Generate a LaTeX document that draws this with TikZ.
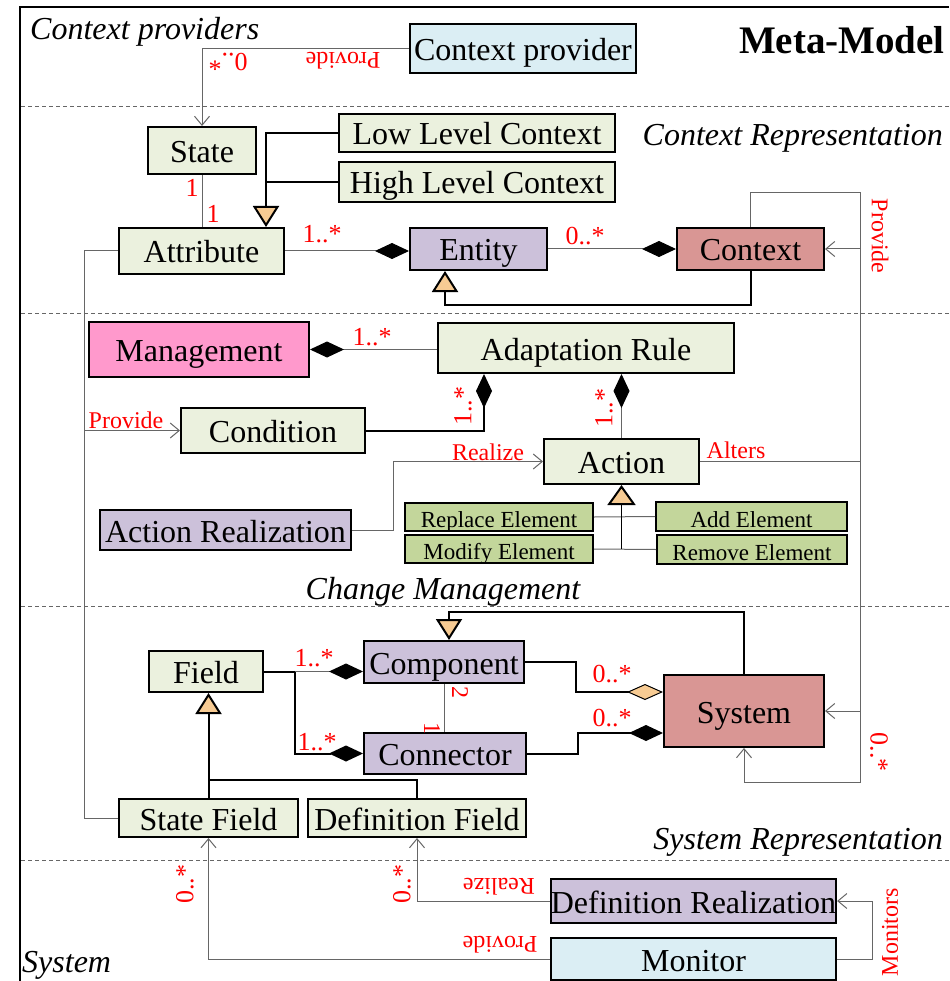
\documentclass[tikz,border=0pt]{standalone}
\usepackage{fontspec}
\setmainfont{Liberation Serif}
\usetikzlibrary{arrows.meta,positioning,calc}
\definecolor{clsfill}{HTML}{EBF1DE}
\definecolor{entfill}{HTML}{CCC1DA}
\definecolor{sysfill}{HTML}{D99694}
\definecolor{mgmtfill}{HTML}{FF99CC}
\definecolor{provfill}{HTML}{DBEEF4}
\definecolor{elemfill}{HTML}{C3D69B}
\definecolor{genfill}{HTML}{F7CB93}

\begin{document}
\begin{tikzpicture}[x=1pt,y=-1pt,
    cls/.style={draw=black,line width=2pt,fill=clsfill,inner sep=0pt,
      text height=28pt,text depth=4pt,font=\fontsize{32}{34}\selectfont},
    elem/.style={cls,fill=elemfill,text height=22pt,text depth=1pt,font=\fontsize{23}{25}\selectfont},
    lbl/.style={text=red,inner sep=0pt,font=\fontsize{24}{26}\selectfont},
    mult/.style={lbl,font=\fontsize{26}{28}\selectfont},
    area/.style={inner sep=0pt,font=\fontsize{32}{34}\selectfont\itshape},
    assoc/.style={draw=black!60,line width=1pt},
    strong/.style={draw=black,line width=2pt},
    opn/.style={-{Straight Barb[length=9pt,width=15pt]}},
    comp/.style={-{Diamond[length=34pt,width=16pt,color=black]}},
    compl/.style={{Diamond[length=34pt,width=16pt,color=black]}-},
    gen/.style={strong,-{Triangle[length=21pt,width=26pt,fill=genfill]}},
    subgen/.style={draw=black,line width=1.3pt,-{Triangle[length=20pt,width=28pt,fill=genfill,line width=2pt]}}
  ]

  \useasboundingbox (0,0) rectangle (949,981);
  \draw[line width=2pt] (20,981) -- (20,7) -- (949,7);
  \foreach \y in {107,313,606,860}
    \draw[black!60,line width=1pt,dash pattern=on 4pt off 3pt] (21,\y) -- (949,\y);

  \node[area,anchor=west] (tprov) at (30,32) {Context providers};
  \node[inner sep=0pt,anchor=east,font=\fontsize{39}{40}\selectfont\bfseries] (tmeta) at (945,40) {Meta-Model};
  \node[area,anchor=east] (tctx) at (943,138) {Context Representation};
  \node[area] (tchg) at (443,592) {Change Management};
  \node[area,anchor=east] (tsys) at (943,842) {System Representation};
  \node[area,anchor=west] (tsyst) at (22,965) {System};

  \node[cls,fill=provfill,minimum width=226pt,minimum height=49pt] (cprov) at (523,48.5) {Context provider};
  \node[cls,minimum width=108pt,minimum height=47pt] (state) at (202,150.5) {State};
  \node[cls,minimum width=276pt,minimum height=38pt] (llc) at (477,133) {Low Level Context};
  \node[cls,minimum width=276pt,minimum height=40pt] (hlc) at (477,182) {High Level Context};
  \node[cls,minimum width=165pt,minimum height=46pt] (attr) at (201.5,251) {Attribute};
  \node[cls,fill=entfill,minimum width=137pt,minimum height=42pt] (entity) at (478.5,249) {Entity};
  \node[cls,fill=sysfill,minimum width=147pt,minimum height=42pt] (context) at (750.5,249) {Context};

  \node[cls,fill=mgmtfill,minimum width=220pt,minimum height=55pt] (mgmt) at (199,349.5) {Management};
  \node[cls,minimum width=296pt,minimum height=50pt] (arule) at (586,348) {Adaptation Rule};
  \node[cls,minimum width=184pt,minimum height=45pt] (cond) at (273,430.5) {Condition};
  \node[cls,minimum width=155pt,minimum height=45pt] (action) at (621.5,461.5) {Action};
  \node[cls,fill=entfill,minimum width=251pt,minimum height=40pt] (actreal) at (225.5,530) {Action Realization};
  \node[elem,minimum width=188pt,minimum height=28pt] (replace) at (499,517) {Replace Element};
  \node[elem,minimum width=188pt,minimum height=28pt] (modify) at (499,549) {Modify Element};
  \node[elem,minimum width=191pt,minimum height=29pt] (add) at (751.5,516.5) {Add Element};
  \node[elem,minimum width=190pt,minimum height=29pt] (remove) at (752,549.5) {Remove Element};

  \node[cls,minimum width=114pt,minimum height=41pt] (field) at (206,671.5) {Field};
  \node[cls,fill=entfill,minimum width=160pt,minimum height=42pt] (component) at (444,662) {Component};
  \node[cls,fill=entfill,minimum width=162pt,minimum height=41pt] (connector) at (445,753.5) {Connector};
  \node[cls,fill=sysfill,minimum width=160pt,minimum height=72pt] (system) at (744,711) {System};
  \node[cls,minimum width=179pt,minimum height=38pt] (statefield) at (208.5,818) {State Field};
  \node[cls,minimum width=218pt,minimum height=38pt] (deffield) at (417,818) {Definition Field};

  \node[cls,fill=entfill,minimum width=285pt,minimum height=44pt] (defreal) at (693.5,901) {Definition Realization};
  \node[cls,fill=provfill,minimum width=285pt,minimum height=42pt] (monitor) at (693.5,959) {Monitor};

  \coordinate (lbus) at (84,0);
  \coordinate (rbus) at (860,193);
  \coordinate (rbot) at (860,782);
  \coordinate (genx) at (266,0);
  \coordinate (ctxbend) at (445,305);
  \coordinate (condx) at (484,0);
  \coordinate (realx) at (393,0);
  \coordinate (fieldx) at (295,0);
  \coordinate (compx) at (576,0);
  \coordinate (connx) at (578,0);
  \coordinate (monx) at (872,0);

  \draw[assoc,opn] (cprov.west) -| (state.north);
  \draw[gen] (llc.west) -| (genx |- attr.north);
  \draw[strong] (hlc.west) -- (hlc.west -| genx);
  \draw[assoc] (state.south) -- (state.south |- attr.north);
  \draw[assoc,comp] (attr.east) -- (attr.east -| entity.west);
  \draw[assoc,comp] (entity.east) -- (context.west);
  \draw[gen] (context.south) |- (ctxbend) -- (ctxbend |- entity.south);

  \draw[assoc,opn] (context.north) |- (rbus) -- (rbot) -| (system.south);
  \draw[assoc,opn] (context.east -| rbus) -- (context.east);
  \draw[assoc,opn] (system.east -| rbus) -- (system.east);
  \draw[assoc] (action.east) -- (action.east -| rbus);

  \draw[assoc] (attr.west) -- (attr.west -| lbus) |- (statefield.west);
  \draw[assoc,opn] (cond.west -| lbus) -- (cond.west);

  \draw[assoc,compl] (mgmt.east) -- (mgmt.east -| arule.west);
  \draw[strong,comp] (cond.east) -| (condx |- arule.south);
  \draw[assoc,comp] (action.north) -- (action.north |- arule.south);
  \draw[assoc,opn] (actreal.east) -- (actreal.east -| realx) |- (action.west);
  \draw[assoc] (replace.east) -- (add.west);
  \draw[assoc] (modify.east) -- (remove.west);
  \draw[subgen] (modify.east -| action.south) -- (action.south);

  \draw[strong] (field.east) -- (field.east -| fieldx);
  \draw[assoc,comp] (field.east -| fieldx) -- (field.east -| component.west);
  \draw[strong,comp] (field.east -| fieldx) |- (connector.west);
  \draw[assoc] (component.south) -- (component.south |- connector.north);
  \draw[strong,-{Diamond[length=36pt,width=16pt,fill=genfill,color=black,line width=1pt]}]
    (component.east) -- (component.east -| compx) |- ($(system.west)+(0,-19)$);
  \draw[strong,comp] (connector.east) -- (connector.east -| connx) |- ($(system.west)+(0,22)$);
  \draw[gen] (system.north) |- ($(component.north)+(5,-28)$) -- ($(component.north)+(5,0)$);
  \draw[gen] (statefield.north) -- (statefield.north |- field.south);
  \draw[strong] (deffield.north) |- ($(statefield.north)+(0,-18)$);

  \draw[assoc,opn] (defreal.west) -| (deffield.south);
  \draw[assoc,opn] (monitor.west) -| (statefield.south);
  \draw[assoc,opn] (monitor.east) -- (monitor.east -| monx) |- (defreal.east);

  \node[lbl,rotate=180] (lprova) at (343,61) {Provide};
  \node[mult,rotate=180] (mprov) at (228,62) {0..*};
  \node[mult] (mstate) at (192,188) {1};
  \node[mult] (mattr) at (213,214) {1};
  \node[mult] (mattrent) at (322,234) {1..*};
  \node[mult] (mentctx) at (585,236) {0..*};
  \node[lbl,rotate=-90] (lprovb) at (880,236) {Provide};
  \node[mult] (mmgmt) at (372,337) {1..*};
  \node[lbl] (lprovc) at (126,420) {Provide};
  \node[mult,rotate=90] (mcond) at (463,406) {1..*};
  \node[mult,rotate=90] (mact) at (604,408) {1..*};
  \node[lbl] (lreal) at (488,452) {Realize};
  \node[lbl] (lalter) at (736,450) {Alters};
  \node[mult] (mfcomp) at (314,658) {1..*};
  \node[mult] (mfconn) at (317,742) {1..*};
  \node[lbl,rotate=-90] (mtwo) at (460,692) {2};
  \node[lbl,rotate=-90] (mone) at (432,728) {1};
  \node[mult] (mcomps) at (612,674) {0..*};
  \node[mult] (mconns) at (612,718) {0..*};
  \node[mult,rotate=-90] (msys) at (879,752) {0..*};
  \node[lbl,rotate=180] (lrealb) at (499,887) {Realize};
  \node[lbl,rotate=180] (lprovd) at (500,945) {Provide};
  \node[mult,rotate=90] (msf) at (185,884) {0..*};
  \node[mult,rotate=90] (mdf) at (402,884) {0..*};
  \node[lbl,rotate=90] (lmon) at (890,932) {Monitors};
\end{tikzpicture}
\end{document}
